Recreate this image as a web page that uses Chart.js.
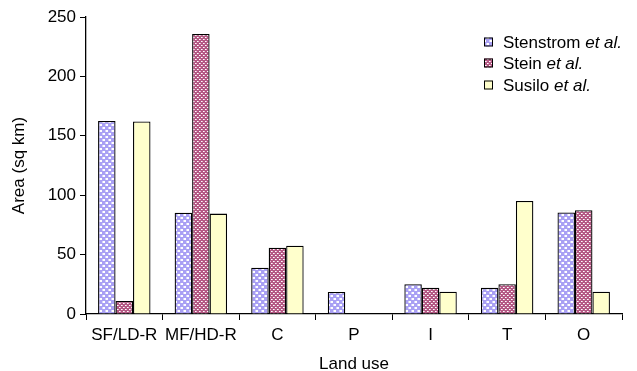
<!DOCTYPE html>
<html><head><meta charset="utf-8">
<script src="https://cdn.jsdelivr.net/npm/chart.js@4/dist/chart.umd.min.js"></script>
<style>html,body{margin:0;padding:0;background:#fff}#wrap{width:637px;height:371px}</style>
</head><body><div id="wrap"><canvas id="c" width="637" height="371"></canvas></div>
<script>
const categories = ["SF/LD-R","MF/HD-R","C","P","I","T","O"];
const stenstrom = [162.5, 85.3, 39, 18.5, 25, 22, 85.4];
const stein     = [11, 235.7, 55.8, null, 22, 25, 87.3];
const susilo    = [162, 84.5, 57.5, null, 18.8, 95.1, 18.8];
const seriesNames = ["Stenstrom", "Stein", "Susilo"];
const yTicks = [0, 50, 100, 150, 200, 250];

function makePattern(kind){
  const t = document.createElement('canvas');
  const g = t.getContext('2d');
  if(kind==='blue'){
    t.width=6; t.height=6;
    g.fillStyle='#a9a0f4'; g.fillRect(0,0,6,6);
    g.fillStyle='#ffffff'; g.fillRect(1,1,2,2); g.fillRect(4,4,2,2);
    g.fillStyle='#d6d2fa'; g.fillRect(0,1,1,2); g.fillRect(3,4,1,2);
  } else if(kind==='red'){
    t.width=4; t.height=4;
    g.fillStyle='#b45884'; g.fillRect(0,0,4,4);
    g.fillStyle='#ffffff'; g.fillRect(1,1,1,1); g.fillRect(3,3,1,1);
    g.fillStyle='#e8c4d4'; g.fillRect(2,1,1,1); g.fillRect(0,3,1,1);
  } else {
    t.width=2; t.height=2; g.fillStyle='#ffffcc'; g.fillRect(0,0,2,2);
  }
  return document.getElementById('c').getContext('2d').createPattern(t,'repeat');
}
const fills = [makePattern('blue'), makePattern('red'), makePattern('yellow')];
const FONT = "'Liberation Sans', Arial, sans-serif";
const FS = 17;

const legendPlugin = {
  id:'customLegend',
  afterDraw(chart){
    const ctx = chart.ctx;
    const x0 = 484, ys = [42, 63, 85];
    ctx.save();
    ys.forEach((y,i)=>{
      ctx.fillStyle = fills[i];
      ctx.fillRect(x0, y-4.5, 9, 9);
      ctx.strokeStyle='#000'; ctx.lineWidth=1;
      ctx.strokeRect(x0+0.5, y-4, 8, 8);
      ctx.fillStyle='#000';
      ctx.textBaseline='middle';
      ctx.font = FS+"px "+FONT;
      const name = seriesNames[i] + " ";
      ctx.fillText(name, x0+19, y+1);
      const w = ctx.measureText(name).width;
      ctx.font = "italic "+FS+"px "+FONT;
      ctx.fillText("et al.", x0+19+w, y+1);
    });
    ctx.restore();
  }
};

new Chart(document.getElementById('c'), {
  type:'bar',
  data:{
    labels: categories,
    datasets: [stenstrom, stein, susilo].map((d,i)=>({
      label: seriesNames[i]+" et al.",
      data: d,
      backgroundColor: fills[i],
      borderColor:'#000',
      borderWidth:1.3,
      borderSkipped:'bottom',
      barPercentage:1.0,
      categoryPercentage:0.685
    }))
  },
  options:{
    responsive:false, animation:false,
    devicePixelRatio:1,
    layout:{padding:{left:0,right:15,top:17,bottom:0}},
    plugins:{legend:{display:false}, tooltip:{enabled:false}},
    scales:{
      x:{
        afterFit(s){ s.height = 57; },
        border:{color:'#000', width:1.3},
        grid:{display:true, drawOnChartArea:false, drawTicks:true, tickLength:6, color:'#000', offset:true},
        ticks:{color:'#000', font:{family:FONT,size:FS}, padding:5, maxRotation:0, autoSkip:false},
        title:{display:true, text:'Land use', color:'#000', font:{family:FONT,size:FS,lineHeight:1}, padding:{top:6,bottom:-2}}
      },
      y:{
        min:0, max:250,
        afterBuildTicks(s){ s.ticks = yTicks.map(v=>({value:v})); },
        afterFit(s){ s.width = 86; },
        border:{color:'#000', width:1.3},
        grid:{display:true, drawOnChartArea:false, drawTicks:true, tickLength:6, color:'#000'},
        ticks:{color:'#000', font:{family:FONT,size:FS}, padding:4},
        title:{display:true, text:'Area (sq km)', color:'#000', font:{family:FONT,size:FS}, padding:{top:9,bottom:0}}
      }
    }
  },
  plugins:[legendPlugin]
});
</script></body></html>
